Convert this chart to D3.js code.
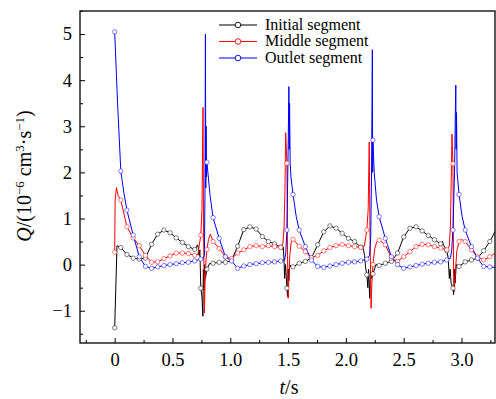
<!DOCTYPE html>
<html>
<head>
<meta charset="utf-8">
<script src="https://cdn.jsdelivr.net/npm/d3@7"></script>
<style>
  body { margin: 0; background: #fff; }
  text { font-family: "Liberation Serif", "DejaVu Serif", serif; fill: #000; }
</style>
</head>
<body>
<svg id="chart" width="496" height="399"></svg>
<script>
// marker sample times (s)
const markerTime = [0, 0.053, 0.106, 0.160, 0.213, 0.266, 0.319, 0.372, 0.426, 0.479, 0.532, 0.585, 0.638, 0.692, 0.745, 0.798,
  0.851, 0.904, 0.958, 1.011, 1.064, 1.117, 1.170, 1.224, 1.277, 1.330, 1.383, 1.436, 1.490, 1.543, 1.596, 1.649, 1.702, 1.756,
  1.809, 1.862, 1.915, 1.968, 2.022, 2.075, 2.128, 2.181, 2.234, 2.288, 2.341, 2.394, 2.447, 2.500, 2.554, 2.607, 2.660, 2.713,
  2.766, 2.820, 2.873, 2.926, 2.979, 3.032, 3.086, 3.139, 3.192, 3.245];

const initialQ = [-1.37, 0.37, 0.22, 0.14, 0.12, 0.14, 0.44, 0.66, 0.75, 0.69, 0.58, 0.48, 0.39, 0.33, -0.51, -0.1,
  0.03, 0.05, 0.05, 0.09, 0.4, 0.76, 0.82, 0.77, 0.61, 0.5, 0.45, 0.38, -0.51, -0.05, 0.03, 0.07, 0.14, 0.43,
  0.71, 0.84, 0.79, 0.68, 0.57, 0.5, 0.38, -0.22, -0.2, -0.02, 0.03, 0.07, 0.25, 0.6, 0.79, 0.82, 0.73, 0.63,
  0.54, 0.45, 0.3, -0.51, -0.04, 0.06, 0.1, 0.14, 0.3, 0.5];
const middleQ = [0.27, 1.4, 0.82, 0.58, 0.41, 0.2, 0.05, 0.06, 0.13, 0.19, 0.25, 0.25, 0.24, 0.2, 0.64, 0.33,
  0.5, 0.35, 0.17, 0.13, 0.25, 0.32, 0.39, 0.41, 0.39, 0.41, 0.39, 0.37, 2.2, 0.55, 0.4, 0.28, 0.15, 0.2,
  0.3, 0.37, 0.41, 0.44, 0.41, 0.39, 0.37, 0.75, 0.0, 0.53, 0.43, 0.14, 0.07, 0.17, 0.28, 0.39, 0.44, 0.43,
  0.39, 0.36, 0.32, 2.19, 0.5, 0.5, 0.32, 0.17, 0.1, 0.17];
const outletQ = [5.05, 2.03, 1.18, 0.64, 0.17, -0.04, -0.08, -0.05, -0.02, 0.0, 0.02, 0.04, 0.05, 0.08, 0.12, 2.22,
  1.02, 0.57, 0.17, 0.08, -0.08, -0.03, 0.0, 0.02, 0.04, 0.05, 0.06, 0.08, 0.75, 1.52, 0.75, 0.39, 0.1, -0.04,
  -0.06, -0.03, 0.0, 0.03, 0.05, 0.06, 0.08, 0.12, 2.7, 1.04, 0.57, 0.17, 0.0, -0.08, -0.05, -0.02, 0.01, 0.03,
  0.05, 0.06, 0.1, 0.75, 1.52, 0.75, 0.39, 0.14, -0.04, -0.05];

// extra points between markers (spikes, line only)
const initialDetailT = [0.02, 0.705, 0.715, 0.722, 0.73, 0.737, 0.755, 0.763, 0.767, 0.772, 0.778, 0.785, 0.82,
  1.445, 1.452, 1.458, 1.465, 1.47, 1.478, 1.495, 1.501, 1.506, 1.514, 1.525,
  2.14, 2.15, 2.162, 2.17, 2.19, 2.196, 2.201, 2.206, 2.212, 2.22, 2.26,
  2.835, 2.845, 2.885, 2.895, 2.902, 2.91, 2.932, 2.938, 2.945, 2.955, 3.29];
const initialDetailQ = [0.41, 0.37, 0.43, 0.38, 0.2, 0.32, -0.7, -1.12, -0.1, -0.55, 0.0, -0.3, 0.02,
  0.42, 0.33, 0.38, 0.1, -0.3, 0.0, -0.69, -0.1, -0.35, 0.0, -0.05,
  0.42, 0.35, 0.2, -0.05, -0.5, -0.1, -0.4, -0.73, -0.15, -0.3, 0.0,
  0.5, 0.42, 0.15, -0.3, -0.1, -0.4, -0.65, -0.1, -0.4, 0.0, 0.72];
const middleDetailT = [0.004, 0.015, 0.03, 0.72, 0.755, 0.764, 0.769, 0.776, 0.782, 0.79, 0.812, 0.828,
  1.455, 1.465, 1.473, 1.479, 1.495, 1.501, 1.507, 1.515, 1.528,
  2.16, 2.193, 2.202, 2.208, 2.218, 2.225, 2.25, 2.268,
  2.895, 2.905, 2.918, 2.932, 2.938, 2.946, 2.96, 3.0, 3.29];
const middleDetailQ = [1.4, 1.67, 1.5, 0.22, 1.2, 3.41, 0.8, -1.05, -0.4, 0.1, 0.55, 0.66,
  0.45, 0.8, 1.6, 2.86, 0.2, -0.73, -0.3, 0.2, 0.5,
  0.4, 1.2, 2.66, 0.8, -0.95, -0.4, 0.35, 0.5,
  0.4, 0.9, 2.83, -0.2, -0.58, -0.2, 0.3, 0.55, 0.25];
const outletDetailT = [0.025, 0.08, 0.765, 0.776, 0.781, 0.785, 0.788, 0.791, 0.794, 0.825,
  1.47, 1.48, 1.5, 1.507, 1.51, 1.513, 1.518, 1.525, 1.57,
  2.205, 2.215, 2.222, 2.229, 2.2315, 2.245, 2.265,
  2.905, 2.915, 2.94, 2.947, 2.951, 2.954, 2.957, 2.962, 3.005, 3.29];
const outletDetailQ = [3.5, 1.55, 0.13, 0.2, 1.5, 5.0, 1.66, 3.0, 1.9, 1.5,
  0.1, 0.25, 2.4, 3.86, 2.5, 3.5, 2.2, 1.9, 1.05,
  0.2, 0.6, 2.0, 4.66, 2.0, 2.0, 1.4,
  0.14, 0.3, 2.0, 3.3, 3.89, 2.5, 3.3, 2.0, 1.05, -0.06];

const xTicks = [0, 0.5, 1.0, 1.5, 2.0, 2.5, 3.0];
const xTickLabels = ['0', '0.5', '1.0', '1.5', '2.0', '2.5', '3.0'];
const xMinorTicks = [-0.25, 0.25, 0.75, 1.25, 1.75, 2.25, 2.75, 3.25];
const yTicks = [-1, 0, 1, 2, 3, 4, 5];
const yTickLabels = ['\u22121', '0', '1', '2', '3', '4', '5'];
const yMinorTicks = [-1.5, -0.5, 0.5, 1.5, 2.5, 3.5, 4.5, 5.5];

const series = [
  { name: 'Initial segment', color: '#000000', q: initialQ, dt: initialDetailT, dq: initialDetailQ },
  { name: 'Middle segment', color: '#ff0000', q: middleQ, dt: middleDetailT, dq: middleDetailQ },
  { name: 'Outlet segment', color: '#0000ff', q: outletQ, dt: outletDetailT, dq: outletDetailQ },
];

const plotL = 80, plotT = 11, plotR = 495, plotB = 343;
const svg = d3.select('#chart');
const x = d3.scaleLinear().domain([-0.3, 3.29]).range([plotL, plotR]);
const y = d3.scaleLinear().domain([-1.7, 5.5]).range([plotB, plotT]);

svg.append('defs').append('clipPath').attr('id', 'plotClip')
  .append('rect').attr('x', plotL).attr('y', plotT).attr('width', plotR - plotL).attr('height', plotB - plotT);

// axes (ticks point inward)
svg.append('g').attr('transform', `translate(0,${plotB})`)
  .call(d3.axisBottom(x).tickValues(xTicks).tickFormat((d, i) => xTickLabels[i]).tickSize(-5).tickPadding(10));
svg.append('g').attr('transform', `translate(0,${plotB})`)
  .call(d3.axisBottom(x).tickValues(xMinorTicks).tickFormat('').tickSize(-3));
svg.append('g').attr('transform', `translate(${plotL},0)`)
  .call(d3.axisLeft(y).tickValues(yTicks).tickFormat((d, i) => yTickLabels[i]).tickSize(-5).tickPadding(8));
svg.append('g').attr('transform', `translate(${plotL},0)`)
  .call(d3.axisLeft(y).tickValues(yMinorTicks).tickFormat('').tickSize(-3));
svg.selectAll('.domain').remove();
svg.selectAll('.tick line').attr('stroke', '#000').attr('stroke-width', 1);
svg.selectAll('.tick text').style('font-size', '18.5px').style('font-family', '"Liberation Serif", serif');

svg.append('rect').attr('x', plotL).attr('y', plotT).attr('width', plotR - plotL).attr('height', plotB - plotT)
  .attr('fill', 'none').attr('stroke', '#000').attr('stroke-width', 1.3);

// lines and markers
const line = d3.line().x(d => x(d[0])).y(d => y(d[1]));
const plot = svg.append('g').attr('clip-path', 'url(#plotClip)');
series.forEach(s => {
  const pts = markerTime.map((t, i) => [t, s.q[i]]).concat(s.dt.map((t, i) => [t, s.dq[i]]));
  pts.sort((a, b) => a[0] - b[0]);
  plot.append('path').datum(pts).attr('d', line)
    .attr('fill', 'none').attr('stroke', s.color).attr('stroke-width', 1).attr('stroke-linejoin', 'round');
});
series.forEach(s => {
  plot.append('g').selectAll('circle').data(markerTime.map((t, i) => [t, s.q[i]]))
    .enter().append('circle')
    .attr('cx', d => x(d[0])).attr('cy', d => y(d[1])).attr('r', 2.2)
    .attr('fill', '#fff').attr('stroke', s.color).attr('stroke-width', 0.7).attr('stroke-opacity', 0.7);
});

// legend
const legend = svg.append('g');
series.forEach((s, i) => {
  const ly = 25 + i * 16.5;
  legend.append('line').attr('x1', 219).attr('x2', 257).attr('y1', ly).attr('y2', ly)
    .attr('stroke', s.color).attr('stroke-width', 1.2);
  legend.append('circle').attr('cx', 238).attr('cy', ly).attr('r', 2.8)
    .attr('fill', '#fff').attr('stroke', s.color).attr('stroke-width', 0.9);
  legend.append('text').attr('x', 265).attr('y', ly + 4.5).style('font-size', '16px').text(s.name);
});

// axis titles
const xt = svg.append('text').attr('x', 289).attr('y', 394).attr('text-anchor', 'middle').style('font-size', '20px');
xt.append('tspan').style('font-style', 'italic').text('t');
xt.append('tspan').text('/s');

const yt = svg.append('text').attr('transform', 'translate(31,176) rotate(-90)').attr('text-anchor', 'middle').style('font-size', '20px');
yt.append('tspan').style('font-style', 'italic').text('Q');
yt.append('tspan').text('/(10');
yt.append('tspan').attr('dy', -7).style('font-size', '13px').text('\u22126');
yt.append('tspan').attr('dy', 7).text(' cm');
yt.append('tspan').attr('dy', -7).style('font-size', '13px').text('3');
yt.append('tspan').attr('dy', 7).text('\u00b7s');
yt.append('tspan').attr('dy', -7).style('font-size', '13px').text('\u22121');
yt.append('tspan').attr('dy', 7).text(')');
</script>
</body>
</html>
